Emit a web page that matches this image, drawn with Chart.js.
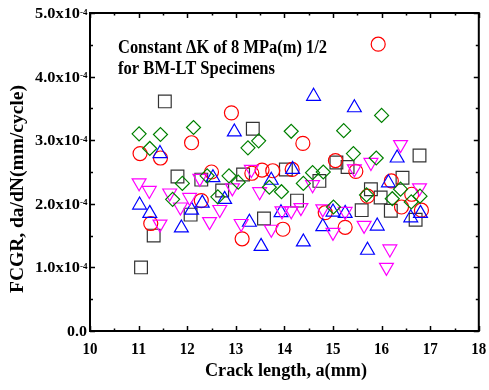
<!DOCTYPE html>
<html>
<head>
<meta charset="utf-8">
<script src="https://cdn.jsdelivr.net/npm/chart.js@4.4.0/dist/chart.umd.min.js"></script>
<style>
  html, body { margin: 0; padding: 0; background: #fff; }
  canvas { display: block; }
</style>
</head>
<body>
<canvas id="chart" width="489" height="390"></canvas>
<script>
// crack length a (mm) vs FCGR (x1e-4 mm/cycle), one list per specimen
const squarePts = [[11.05,1.00],[11.31,1.50],[11.54,3.61],[11.80,2.43],[12.07,1.83],[12.29,2.38],[12.72,2.21],[13.15,2.46],[13.35,3.18],[13.58,1.77],[14.03,2.54],[14.26,2.05],[14.72,2.36],[15.07,2.65],[15.30,2.58],[15.59,1.90],[15.78,2.23],[15.98,2.10],[16.19,1.89],[16.43,2.41],[16.70,1.75],[16.78,2.76]]
const circlePts = [[11.03,2.79],[11.25,1.69],[11.45,2.72],[12.09,2.96],[12.29,2.05],[12.50,2.50],[12.91,3.43],[13.13,1.45],[13.33,2.48],[13.54,2.53],[13.76,2.52],[13.97,1.60],[14.16,2.54],[14.38,2.95],[14.84,1.86],[15.05,2.68],[15.25,1.63],[15.47,2.51],[15.71,2.12],[15.93,4.51],[16.20,2.36],[16.41,1.95],[16.62,2.15],[16.82,1.90]]
const upTriPts = [[11.02,1.98],[11.23,1.85],[11.44,2.79],[11.88,1.62],[12.09,1.90],[12.31,2.01],[12.53,2.41],[12.77,2.07],[12.97,3.13],[13.28,1.71],[13.52,1.33],[13.73,2.37],[13.93,1.86],[14.17,2.54],[14.39,1.40],[14.60,3.69],[14.79,1.64],[15.00,1.87],[15.25,1.85],[15.44,3.51],[15.71,1.27],[15.91,1.65],[16.14,2.33],[16.32,2.72],[16.60,1.78],[16.80,1.85]]
const downTriPts = [[11.01,2.33],[11.22,2.21],[11.44,1.68],[11.64,2.17],[11.86,1.95],[12.05,2.10],[12.26,2.40],[12.46,1.72],[12.67,1.91],[12.93,2.25],[13.11,1.69],[13.32,2.54],[13.49,2.19],[13.73,1.60],[13.95,1.89],[14.14,1.89],[14.34,1.94],[14.58,2.30],[14.79,1.92],[15.00,1.55],[15.25,1.88],[15.44,2.55],[15.64,1.66],[15.78,2.65],[16.10,1.00],[16.17,1.29],[16.39,2.93],[16.78,2.25]]
const diamondPts = [[11.01,3.10],[11.23,2.87],[11.45,3.09],[11.70,2.07],[11.90,2.32],[12.13,3.20],[12.41,2.44],[12.63,2.11],[12.86,2.44],[13.05,2.34],[13.25,2.88],[13.47,2.99],[13.69,2.26],[13.94,2.19],[14.14,3.14],[14.39,2.32],[14.58,2.49],[14.80,2.50],[15.01,1.95],[15.22,3.15],[15.42,2.79],[15.69,2.14],[15.89,2.72],[16.00,3.39],[16.22,2.08],[16.39,2.23],[16.61,2.03],[16.79,2.12]]

const xTicks = [10, 11, 12, 13, 14, 15, 16, 17, 18]
const yTicks = [0, 1, 2, 3, 4, 5]
const yTickText = ['0.0', '1.0x10', '2.0x10', '3.0x10', '4.0x10', '5.0x10']
const yTickExp = ['', '-4', '-4', '-4', '-4', '-4']
const noteLines = ['Constant \u0394K of 8 MPa(m) 1/2', 'for BM-LT Specimens']
const xTitle = 'Crack length, a(mm)'
const yTitle = 'FCGR, da/dN(mm/cycle)'

const serif = '"Liberation Serif", "Times New Roman", serif'

function toXY(pts) {
    return pts.map(p => ({ x: p[0], y: p[1] }))
}

function series(pts, style, color, radius, rotation) {
    return {
        data: toXY(pts),
        pointStyle: style,
        pointRadius: radius,
        pointHoverRadius: radius,
        pointRotation: rotation || 0,
        pointBorderColor: color,
        pointBackgroundColor: 'rgba(0,0,0,0)',
        pointBorderWidth: 1.2,
        showLine: false
    }
}

// text squeezed/stretched to a given width, Times-like fonts run narrow here
function fitText(ctx, text, x, y, width, font, align) {
    ctx.save()
    ctx.font = font
    const w = ctx.measureText(text).width
    const sx = width / w
    let left = x
    if (align === 'center') left = x - width / 2
    if (align === 'right') left = x - width
    ctx.translate(left, y)
    ctx.scale(sx, 1)
    ctx.textAlign = 'left'
    ctx.fillText(text, 0, 0)
    ctx.restore()
}

const framePlugin = {
    id: 'frame',
    afterDraw(chart) {
        const ctx = chart.ctx
        const a = chart.chartArea
        const xs = chart.scales.x
        const ys = chart.scales.y
        ctx.save()
        ctx.strokeStyle = '#000'
        ctx.fillStyle = '#000'

        // box
        ctx.lineWidth = 2
        ctx.strokeRect(a.left, a.top, a.right - a.left, a.bottom - a.top)

        // inward ticks, major every unit, minor at halves
        ctx.lineWidth = 1.5
        ctx.beginPath()
        for (let v = 10; v <= 18; v += 0.5) {
            const px = Math.round(xs.getPixelForValue(v)) + 0.5
            const len = Number.isInteger(v) ? 5 : 2.5
            ctx.moveTo(px, a.bottom); ctx.lineTo(px, a.bottom - len)
            ctx.moveTo(px, a.top); ctx.lineTo(px, a.top + len)
        }
        for (let v = 0; v <= 5; v += 0.5) {
            const py = Math.round(ys.getPixelForValue(v)) + 0.5
            const len = Number.isInteger(v) ? 5 : 3
            ctx.moveTo(a.left, py); ctx.lineTo(a.left + len, py)
            ctx.moveTo(a.right, py); ctx.lineTo(a.right - len, py)
        }
        ctx.stroke()

        // x tick labels
        ctx.textBaseline = 'alphabetic'
        xTicks.forEach(v => {
            const px = xs.getPixelForValue(v)
            const t = String(v)
            fitText(ctx, t, px, 354, 15, 'bold 17px ' + serif, 'center')
        })

        // y tick labels with raised exponent
        yTicks.forEach((v, i) => {
            const py = ys.getPixelForValue(v)
            if (yTickExp[i]) {
                fitText(ctx, yTickText[i], 80, py + 5, 45, 'bold 15px ' + serif, 'right')
                fitText(ctx, yTickExp[i], 87.5, py + 1.5, 7.5, 'bold 9px ' + serif, 'right')
            } else {
                fitText(ctx, yTickText[i], 87, py + 5, 20, 'bold 15px ' + serif, 'right')
            }
        })

        // axis titles
        fitText(ctx, xTitle, 286, 376, 162, 'bold 18px ' + serif, 'center')
        ctx.save()
        ctx.translate(23, 189)
        ctx.rotate(-Math.PI / 2)
        fitText(ctx, yTitle, 0, 0, 208, 'bold 18px ' + serif, 'center')
        ctx.restore()

        // note
        fitText(ctx, noteLines[0], 118, 53, 209, 'bold 18px ' + serif, 'left')
        fitText(ctx, noteLines[1], 118, 74, 157, 'bold 18px ' + serif, 'left')

        ctx.restore()
    }
}

const chart = new Chart(document.getElementById('chart'), {
    type: 'scatter',
    data: {
        datasets: [
            series(diamondPts, 'rectRot', '#008000', 7),
            series(downTriPts, 'triangle', '#ff00ff', 8, 180),
            series(upTriPts, 'triangle', '#0000ff', 8),
            series(circlePts, 'circle', '#ff0000', 7),
            series(squarePts, 'rect', '#333333', 9)
        ]
    },
    options: {
        responsive: false,
        animation: false,
        devicePixelRatio: 1,
        layout: { padding: { left: 90, right: 9, top: 13, bottom: 59 } },
        plugins: { legend: { display: false }, tooltip: { enabled: false } },
        scales: {
            x: { type: 'linear', min: 10, max: 18, display: false },
            y: { type: 'linear', min: 0, max: 5, display: false }
        }
    },
    plugins: [framePlugin]
})
</script>
</body>
</html>
